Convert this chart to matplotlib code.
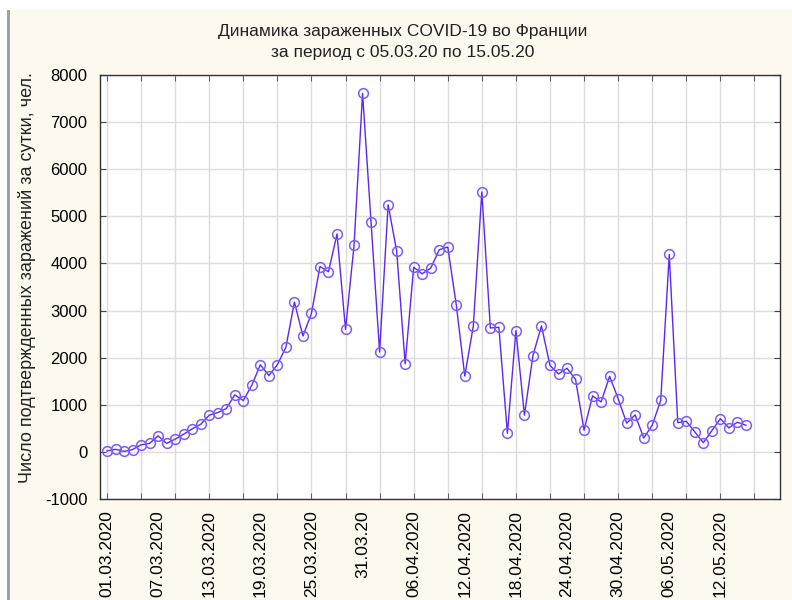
import matplotlib
matplotlib.use("Agg")
import matplotlib.pyplot as plt
from matplotlib.patches import Rectangle

# ----------------------------
# Data: daily new COVID-19 cases in France
# day 0 = 01.03.2020
# ----------------------------
cases = [
    20, 55, 10, 50, 150, 180, 340, 180, 270, 375,
    490, 585, 780, 835, 920, 1210, 1090, 1415, 1850, 1620,
    1850, 2220, 3180, 2460, 2940, 3935, 3825, 4625, 2600, 4385,
    7610, 4870, 2120, 5245, 4270, 1870, 3920, 3780, 3900, 4290,
    4350, 3120, 1610, 2675, 5520, 2630, 2645, 395, 2575, 780,
    2045, 2675, 1835, 1655, 1775, 1540, 460, 1190, 1060, 1605,
    1130, 610, 785, 295, 565, 1095, 4190, 620, 650, 425,
    195, 450, 705, 510, 630, 565,
]
days = list(range(len(cases)))

label_days = [0, 6, 12, 18, 24, 30, 36, 42, 48, 54, 60, 66, 72]
date_labels = [
    "01.03.2020", "07.03.2020", "13.03.2020", "19.03.2020", "25.03.2020",
    "31.03.20", "06.04.2020", "12.04.2020", "18.04.2020", "24.04.2020",
    "30.04.2020", "06.05.2020", "12.05.2020",
]
grid_days = list(range(0, 80, 4))
y_ticks = list(range(-1000, 9000, 1000))

title_text = "Динамика зараженных COVID-19 во Франции\nза период с 05.03.20 по 15.05.20"
ylabel_text = "Число подтвержденных заражений за сутки, чел."

# ----------------------------
# Figure
# ----------------------------
plt.rcParams["font.family"] = ["Liberation Sans", "DejaVu Sans"]
plt.rcParams["axes.unicode_minus"] = False

fig = plt.figure(figsize=(7.92, 6.0), dpi=100)
fig.patch.set_facecolor("white")

# cream page background + grey border strip on the left
fig.add_artist(Rectangle((11 / 792, 0), 1, 1 - 10 / 600, transform=fig.transFigure,
                         facecolor="#fef9ee", edgecolor="none", zorder=-10))
fig.add_artist(Rectangle((7 / 792, 0), 3 / 792, 1 - 10 / 600, transform=fig.transFigure,
                         facecolor="#a0a0a0", edgecolor="none", zorder=-9))

ax = fig.add_axes([100 / 792, 1 - 499 / 600, 680 / 792, 424 / 600])
ax.set_facecolor("white")

ax.plot(days, cases, color="#5a28f0", linewidth=1.0,
        marker="o", markersize=7, markerfacecolor="none",
        markeredgecolor="#7a5cff", markeredgewidth=1.1, zorder=3)

ax.set_xlim(-0.82, 79.0)
ax.set_ylim(-1000, 8000)

# labels every 6 days (major, no tick marks), grid + ticks every 4 days (minor)
ax.xaxis.remove_overlapping_locs = False
ax.set_xticks(label_days)
ax.set_xticklabels(date_labels, rotation=90, fontsize=12.5)
ax.tick_params(axis="x", which="major", length=0, pad=8)
ax.set_xticks(grid_days, minor=True)
ax.tick_params(axis="x", which="minor", direction="in", length=4,
               top=True, bottom=True, color="#444444")

ax.set_yticks(y_ticks)
ax.tick_params(axis="y", direction="in", length=4, left=True, right=True,
               labelsize=12, pad=9, color="#444444")

ax.grid(True, axis="x", which="minor", color="#dcdcdc", linewidth=1.0, zorder=0)
ax.grid(True, axis="y", which="major", color="#dcdcdc", linewidth=1.0, zorder=0)
ax.set_axisbelow(True)

for side in ["left", "right", "top", "bottom"]:
    ax.spines[side].set_color("#333333")
    ax.spines[side].set_linewidth(1.0)

fig.text(403 / 792, 1 - 42 / 600, title_text, ha="center", va="center",
         fontsize=12.5, linespacing=1.45, color="#222222")
fig.text(27 / 792, 1 - 278 / 600, ylabel_text, rotation=90, ha="center",
         va="center", fontsize=13, color="#222222")

fig.savefig("out.png", dpi=100, facecolor=fig.get_facecolor())
